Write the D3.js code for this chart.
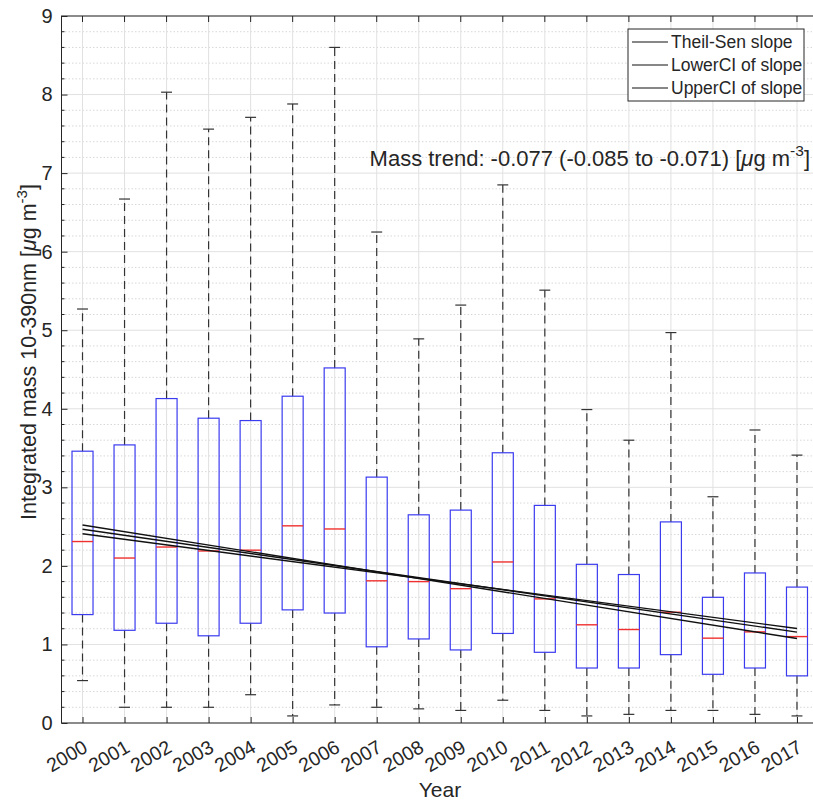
<!DOCTYPE html>
<html>
<head>
<meta charset="utf-8">
<script src="https://cdn.jsdelivr.net/npm/d3@7"></script>
<style>
  body { margin: 0; background: #fff; }
  text { font-family: "Liberation Sans", Arial, sans-serif; fill: #262626; }
</style>
</head>
<body>
<svg id="chart" width="813" height="801"></svg>
<script>
// categories and box statistics
var years = ["2000","2001","2002","2003","2004","2005","2006","2007","2008",
             "2009","2010","2011","2012","2013","2014","2015","2016","2017"];
var whiskerLow  = [0.54,0.20,0.20,0.20,0.36,0.09,0.23,0.20,0.18,0.16,0.29,0.16,0.09,0.11,0.16,0.16,0.11,0.09];
var q1          = [1.38,1.18,1.27,1.11,1.27,1.44,1.40,0.97,1.07,0.93,1.14,0.90,0.70,0.70,0.87,0.62,0.70,0.60];
var medians     = [2.31,2.10,2.24,2.19,2.20,2.51,2.47,1.81,1.80,1.71,2.05,1.58,1.25,1.19,1.41,1.08,1.16,1.10];
var q3          = [3.46,3.54,4.13,3.88,3.85,4.16,4.52,3.13,2.65,2.71,3.44,2.77,2.02,1.89,2.56,1.60,1.91,1.73];
var whiskerHigh = [5.27,6.67,8.03,7.56,7.71,7.88,8.60,6.25,4.89,5.32,6.85,5.51,3.99,3.60,4.97,2.88,3.73,3.41];

// trend lines: value at first year and slope per year
var trendNames  = ["Theil-Sen slope", "LowerCI of slope", "UpperCI of slope"];
var trendStart  = [2.466, 2.52, 2.41];
var trendSlopes = [-0.077, -0.085, -0.071];

var yTicks = [0,1,2,3,4,5,6,7,8,9];

var svg = d3.select("#chart");
var margin = { left: 61.5, top: 16, right: 818, bottom: 723 };

var x = d3.scaleLinear().domain([0.5, years.length + 0.5]).range([margin.left, margin.right]);
var y = d3.scaleLinear().domain([0, 9]).range([margin.bottom, margin.top]);
var step = x(2) - x(1);

var g = svg.append("g");

// minor grid (dotted) every 0.2
var minorTicks = d3.range(0, 9.0001, 0.2).filter(function (v) { return Math.abs(v - Math.round(v)) > 1e-6; });
g.selectAll(".minor").data(minorTicks).enter().append("line")
    .attr("x1", margin.left).attr("x2", margin.right)
    .attr("y1", function (d) { return y(d); }).attr("y2", function (d) { return y(d); })
    .attr("stroke", "#d8d8d8").attr("stroke-width", 1).attr("stroke-dasharray", "1.5,2");

// major grid
g.selectAll(".hgrid").data(yTicks).enter().append("line")
    .attr("x1", margin.left).attr("x2", margin.right)
    .attr("y1", function (d) { return y(d); }).attr("y2", function (d) { return y(d); })
    .attr("stroke", "#e1e1e1").attr("stroke-width", 1);
g.selectAll(".vgrid").data(years).enter().append("line")
    .attr("x1", function (d, i) { return x(i + 1); }).attr("x2", function (d, i) { return x(i + 1); })
    .attr("y1", margin.top).attr("y2", margin.bottom)
    .attr("stroke", "#e1e1e1").attr("stroke-width", 1);

// boxplots
var boxes = g.selectAll(".box").data(years).enter().append("g").attr("class", "box");
boxes.append("line") // upper whisker
    .attr("x1", function (d, i) { return x(i + 1); }).attr("x2", function (d, i) { return x(i + 1); })
    .attr("y1", function (d, i) { return y(q3[i]); }).attr("y2", function (d, i) { return y(whiskerHigh[i]); })
    .attr("stroke", "#333").attr("stroke-width", 1.2).attr("stroke-dasharray", "8,5");
boxes.append("line") // lower whisker
    .attr("x1", function (d, i) { return x(i + 1); }).attr("x2", function (d, i) { return x(i + 1); })
    .attr("y1", function (d, i) { return y(q1[i]); }).attr("y2", function (d, i) { return y(whiskerLow[i]); })
    .attr("stroke", "#333").attr("stroke-width", 1.2).attr("stroke-dasharray", "8,5");
[whiskerHigh, whiskerLow].forEach(function (arr) {
    boxes.append("line")
        .attr("x1", function (d, i) { return x(i + 1) - step * 0.13; })
        .attr("x2", function (d, i) { return x(i + 1) + step * 0.13; })
        .attr("y1", function (d, i) { return y(arr[i]); }).attr("y2", function (d, i) { return y(arr[i]); })
        .attr("stroke", "#333").attr("stroke-width", 1.2);
});
boxes.append("rect")
    .attr("x", function (d, i) { return x(i + 1) - step * 0.25; })
    .attr("width", step * 0.5)
    .attr("y", function (d, i) { return y(q3[i]); })
    .attr("height", function (d, i) { return y(q1[i]) - y(q3[i]); })
    .attr("fill", "none").attr("stroke", "#3b3bf0").attr("stroke-width", 1.2);
boxes.append("line")
    .attr("x1", function (d, i) { return x(i + 1) - step * 0.25; })
    .attr("x2", function (d, i) { return x(i + 1) + step * 0.25; })
    .attr("y1", function (d, i) { return y(medians[i]); }).attr("y2", function (d, i) { return y(medians[i]); })
    .attr("stroke", "#f03030").attr("stroke-width", 1.4);

// trend lines
trendNames.forEach(function (name, k) {
    var n = years.length - 1;
    g.append("line")
        .attr("x1", x(1)).attr("x2", x(years.length))
        .attr("y1", y(trendStart[k])).attr("y2", y(trendStart[k] + trendSlopes[k] * n))
        .attr("stroke", "#111").attr("stroke-width", 1.4);
});

// axes box
g.append("rect").attr("x", margin.left).attr("y", margin.top)
    .attr("width", margin.right - margin.left).attr("height", margin.bottom - margin.top)
    .attr("fill", "none").attr("stroke", "#262626").attr("stroke-width", 1);

// ticks
var yAxis = d3.axisLeft(y).tickValues(yTicks).tickSize(-6).tickPadding(9).tickFormat(d3.format("d"));
var yAx = svg.append("g").attr("transform", "translate(" + margin.left + ",0)").call(yAxis);
yAx.select(".domain").remove();
yAx.selectAll("text").attr("font-size", 20).style("fill", "#262626");
yAx.selectAll("line").attr("stroke", "#262626");
g.selectAll(".yminor").data(minorTicks).enter().append("line")
    .attr("x1", margin.left).attr("x2", margin.left + 3)
    .attr("y1", function (d) { return y(d); }).attr("y2", function (d) { return y(d); })
    .attr("stroke", "#262626");

var xAxis = d3.axisBottom(x).tickValues(d3.range(1, years.length + 1)).tickSize(-6)
    .tickFormat(function (d) { return years[d - 1]; });
var xAx = svg.append("g").attr("transform", "translate(0," + margin.bottom + ")").call(xAxis);
xAx.select(".domain").remove();
xAx.selectAll("line").attr("stroke", "#262626");
xAx.selectAll("text").attr("font-size", 19.5).style("fill", "#262626")
    .attr("text-anchor", "end").attr("dy", 0).attr("y", 0)
    .attr("transform", "translate(6,28) rotate(-30)");
// top ticks
g.selectAll(".xtop").data(years).enter().append("line")
    .attr("x1", function (d, i) { return x(i + 1); }).attr("x2", function (d, i) { return x(i + 1); })
    .attr("y1", margin.top).attr("y2", margin.top + 6).attr("stroke", "#262626");

// axis labels
svg.append("text").attr("x", 440).attr("y", 797).attr("text-anchor", "middle")
    .attr("font-size", 21).text("Year");
var yl = svg.append("text").attr("transform", "translate(36,352) rotate(-90)")
    .attr("text-anchor", "middle").attr("font-size", 21.5);
yl.append("tspan").text("Integrated mass 10-390nm [");
yl.append("tspan").attr("font-style", "italic").text("\u03bc");
yl.append("tspan").text("g m");
yl.append("tspan").attr("dy", -9).attr("font-size", 15).text("-3");
yl.append("tspan").attr("dy", 9).text("]");

// annotation
var ann = svg.append("text").attr("x", 810).attr("y", 166).attr("text-anchor", "end").attr("font-size", 22);
ann.append("tspan").text("Mass trend: -0.077 (-0.085 to -0.071) [");
ann.append("tspan").attr("font-style", "italic").text("\u03bc");
ann.append("tspan").text("g m");
ann.append("tspan").attr("dy", -10).attr("font-size", 15.5).text("-3");
ann.append("tspan").attr("dy", 10).text("]");

// legend
var lg = svg.append("g").attr("transform", "translate(628,29)");
lg.append("rect").attr("width", 176).attr("height", 72)
    .attr("fill", "#fff").attr("stroke", "#262626").attr("stroke-width", 1);
trendNames.forEach(function (name, k) {
    var yy = 13 + k * 23;
    lg.append("line").attr("x1", 4).attr("x2", 40).attr("y1", yy).attr("y2", yy)
        .attr("stroke", "#111").attr("stroke-width", 1.2);
    lg.append("text").attr("x", 43).attr("y", yy + 6).attr("font-size", 17.5).text(name);
});
</script>
</body>
</html>
